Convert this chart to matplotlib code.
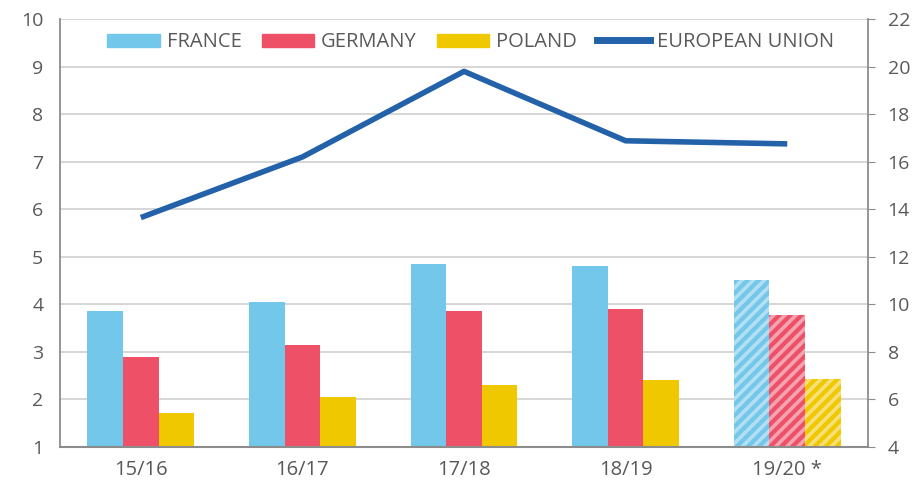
import numpy as np
import matplotlib.pyplot as plt
from matplotlib.patches import Patch
from matplotlib.lines import Line2D

plt.rcParams['font.family'] = ['Open Sans', 'DejaVu Sans']
plt.rcParams['hatch.linewidth'] = 2.6

seasons = ['15/16', '16/17', '17/18', '18/19', '19/20 *']
france = [3.85, 4.05, 4.85, 4.8, 4.52]
germany = [2.9, 3.15, 3.85, 3.9, 3.78]
poland = [1.72, 2.05, 2.3, 2.4, 2.42]
eu = [13.65, 16.2, 19.8, 16.88, 16.75]

c_fr = '#72C7EA'
c_de = '#EE5068'
c_pl = '#F0C800'
c_eu = '#2361A9'
grey = '#595959'

fig = plt.figure(figsize=(9.15, 4.91), dpi=100)
ax = fig.add_axes([0.0656, 0.0896, 0.8831, 0.8716])
ax2 = ax.twinx()

x = np.arange(len(seasons))
w = 0.22
light = {c_fr: '#B4DFF2', c_de: '#F4A3B0', c_pl: '#F7E07A'}
for vals, col, off in [(france, c_fr, -w), (germany, c_de, 0), (poland, c_pl, w)]:
    heights = [v - 1 for v in vals]
    bars = ax.bar(x + off, heights, w, bottom=1, color=col, zorder=2)
    # last season is an estimate -> striped
    b = bars[-1]
    b.set_hatch('///')
    b.set_edgecolor(light[col])
    b.set_linewidth(0)

ax2.plot(x, eu, color=c_eu, lw=4, solid_capstyle='butt', zorder=3)

ax.set_xlim(-0.5, 4.5)
ax.set_ylim(1, 10)
ax.set_yticks(range(1, 11))
ax2.set_ylim(4, 22)
ax2.set_yticks(range(4, 23, 2))

ax.grid(axis='y', color='#D0D0D0', lw=1.2, zorder=0)
ax.set_axisbelow(True)
ax.set_xticks(x)
ax.set_xticklabels(seasons)

for a in (ax, ax2):
    a.spines['top'].set_visible(False)
ax.spines['right'].set_visible(False)
ax2.spines['left'].set_visible(False)
ax2.spines['bottom'].set_visible(False)
ax.spines['left'].set_color('#8C8C8C')
ax.spines['bottom'].set_color('#8C8C8C')
ax2.spines['right'].set_color('#8C8C8C')
ax.spines['left'].set_linewidth(1.3)
ax.spines['bottom'].set_linewidth(1.5)
ax2.spines['right'].set_linewidth(1.3)

ax.tick_params(axis='y', length=0, labelsize=14, labelcolor=grey, pad=12)
ax.tick_params(axis='x', length=0, labelsize=14.5, labelcolor=grey, pad=9)
ax2.tick_params(axis='y', length=5, color='#8C8C8C', labelsize=14, labelcolor=grey, pad=9)

handles = [Patch(color=c_fr), Patch(color=c_de), Patch(color=c_pl),
           Line2D([], [], color=c_eu, lw=5)]
labels = ['FRANCE', 'GERMANY', 'POLAND', 'EUROPEAN UNION']
leg = ax.legend(handles, labels, loc='upper center', bbox_to_anchor=(0.508, 0.988),
                ncol=4, frameon=True, fontsize=14.5, handlelength=2.6, handleheight=0.6,
                columnspacing=1.0, handletextpad=0.35, borderaxespad=0)
leg.get_frame().set_facecolor('white')
leg.get_frame().set_edgecolor('none')
for t in leg.get_texts():
    t.set_color(grey)
leg.set_zorder(5)

fig.savefig('out.png', dpi=100)
